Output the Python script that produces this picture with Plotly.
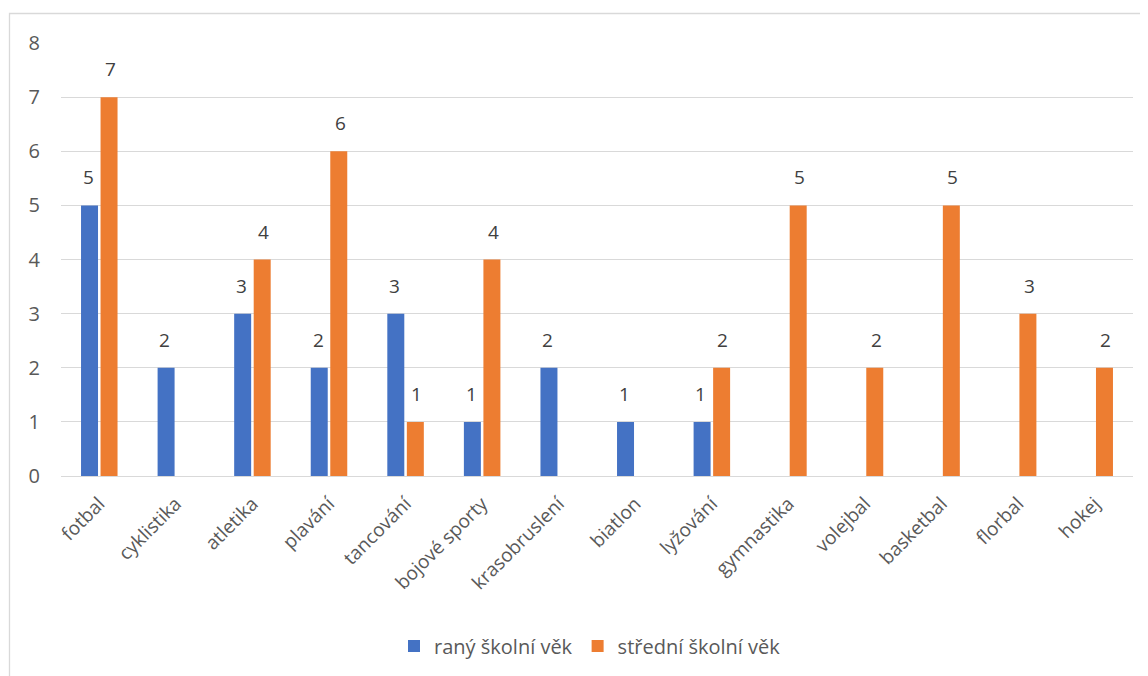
import plotly.graph_objects as go

categories = ["fotbal", "cyklistika", "atletika", "plavání", "tancování", "bojové sporty",
              "krasobruslení", "biatlon", "lyžování", "gymnastika", "volejbal", "basketbal",
              "florbal", "hokej"]
rany = [5, 2, 3, 2, 3, 1, 2, 1, 1, None, None, None, None, None]
stredni = [7, None, 4, 6, 1, 4, None, None, 2, 5, 2, 5, 3, 2]
series_names = ["raný školní věk", "střední školní věk"]
colors = ["#4472C4", "#ED7D31"]

FONT = "Open Sans"
fig = go.Figure()
for name, vals, col in zip(series_names, [rany, stredni], colors):
    fig.add_trace(go.Bar(
        x=categories, y=vals, name=name, marker_color=col, marker_line_width=0,
    ))

# data labels above the bars (anchored to data values via axes)
for vals, shift in zip([rany, stredni], [-11, 11]):
    for c, v in zip(categories, vals):
        if v is None:
            continue
        fig.add_annotation(x=c, y=v, xref="x", yref="y", text=str(v), showarrow=False,
                           xshift=shift, yshift=13, yanchor="bottom",
                           font=dict(family=FONT, size=19, color="#404040"))

# page body has an 8px margin, compensate
OFF = 8
W, H = 1148, 676
L = 61 - OFF
T = 43 - OFF
pw = 1133 - 61
ph = 476 - 43
R = W - L - pw
B = H - T - ph

def px(x):
    return (x - OFF - L) / pw

def py(y):
    return (H - B - (y - OFF)) / ph

fig.update_layout(
    width=W, height=H, margin=dict(l=L, r=R, t=T, b=B),
    paper_bgcolor="white", plot_bgcolor="white",
    barmode="group", bargap=0.49, bargroupgap=0.13,
    font=dict(family=FONT, size=17, color="#595959"),
    showlegend=True,
    legend=dict(orientation="h", x=px(590), xanchor="center", y=py(646), yanchor="middle",
                font=dict(family=FONT, size=20, color="#595959"),
                traceorder="normal"),
    xaxis=dict(tickangle=-45, showgrid=False, showline=False, ticks="", ticklabelstandoff=12,
               tickfont=dict(family=FONT, size=19, color="#595959")),
    yaxis=dict(range=[0, 8], dtick=1, showgrid=True, gridcolor="#D9D9D9", gridwidth=1.3,
               zeroline=True, zerolinecolor="#D9D9D9", zerolinewidth=1.3,
               showline=False, ticks="", ticklabelstandoff=20,
               tickfont=dict(family=FONT, size=20, color="#595959")),
    shapes=[dict(type="rect", xref="paper", yref="paper",
                 x0=px(9.5), x1=px(1147.5), y0=py(700), y1=py(13.5),
                 line=dict(color="#D9D9D9", width=1.3), fillcolor="rgba(0,0,0,0)", layer="below")],
)

fig.write_html("out.html")
